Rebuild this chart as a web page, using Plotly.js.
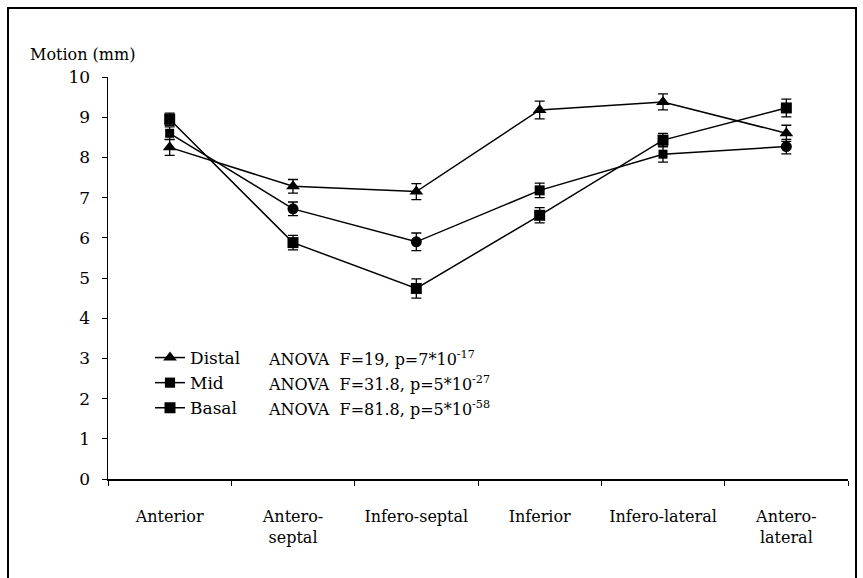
<!DOCTYPE html>
<html>
<head>
<meta charset="utf-8">
<script src="https://cdn.plot.ly/plotly-3.0.1.min.js"></script>
<style>html,body{margin:0;padding:0;background:#fff;}#chart{width:863px;height:578px;}</style>
</head>
<body>
<div id="chart"></div>
<script>
const categories = ['Anterior', 'Antero-<br>septal', 'Infero-septal', 'Inferior', 'Infero-lateral', 'Antero-<br>lateral'];
const distal = [8.25, 7.28, 7.15, 9.18, 9.38, 8.6];
const distalErr = [0.2, 0.17, 0.2, 0.22, 0.2, 0.2];
const mid = [8.6, 6.72, 5.9, 7.18, 8.08, 8.27];
const midErr = [0.16, 0.17, 0.22, 0.18, 0.2, 0.18];
const basal = [8.95, 5.88, 4.74, 6.56, 8.43, 9.23];
const basalErr = [0.15, 0.18, 0.24, 0.19, 0.17, 0.22];
const seriesNames = ['Distal', 'Mid', 'Basal'];
const anovaTexts = ['ANOVA  F=19, p=7*10<sup>-17</sup>', 'ANOVA  F=31.8, p=5*10<sup>-27</sup>', 'ANOVA  F=81.8, p=5*10<sup>-58</sup>'];
const yTicks = [0,1,2,3,4,5,6,7,8,9,10];

const FONT = 'DejaVu Serif';
const errStyle = {type:'data', visible:true, color:'#000', thickness:1.3, width:5};

const traces = [
  {name: seriesNames[0], x: categories, y: distal, type:'scatter', mode:'lines+markers',
   line:{color:'#000', width:1.5}, marker:{symbol:'triangle-up', size:12, color:'#000', opacity:1, line:{width:0}},
   error_y: Object.assign({array: distalErr}, errStyle)},
  {name: seriesNames[1], x: categories, y: mid, type:'scatter', mode:'lines+markers',
   line:{color:'#000', width:1.5},
   marker:{symbol:['square','circle','circle','square','square','circle'], size:[9,11,11,10,9,11], color:'#000', opacity:1, line:{width:0}},
   error_y: Object.assign({array: midErr}, errStyle)},
  {name: seriesNames[2], x: categories, y: basal, type:'scatter', mode:'lines+markers',
   line:{color:'#000', width:1.5}, marker:{symbol:'square', size:11, color:'#000', opacity:1, line:{width:0}},
   error_y: Object.assign({array: basalErr}, errStyle)}
];

const L = 108, R = 848, T = 77, B = 479;
const px2x = p => (p - L) / (R - L);
const px2y = p => (B - p) / (B - T);

const annotations = anovaTexts.map((t, i) => ({
  xref:'paper', yref:'paper', x: px2x(266), y: px2y(358 + 25*i),
  xanchor:'left', yanchor:'middle', showarrow:false, text:t,
  font:{family:FONT, size:16, color:'#000'}
}));
annotations.push({xref:'paper', yref:'paper', x: px2x(28), y: px2y(55),
  xanchor:'left', yanchor:'middle', showarrow:false, text:'Motion (mm)',
  font:{family:FONT, size:16, color:'#000'}});

const layout = {
  width:863, height:578,
  margin:{l:L, r:863-R, t:T, b:578-B},
  paper_bgcolor:'#fff', plot_bgcolor:'#fff',
  font:{family:FONT, size:16, color:'#000'},
  showlegend:true,
  legend:{x: px2x(150), y: px2y(340), xanchor:'left', yanchor:'top',
    bgcolor:'rgba(0,0,0,0)', font:{family:FONT, size:17, color:'#000'},
    tracegroupgap:0, itemwidth:30},
  xaxis:{type:'category', range:[-0.5, 5.5], showline:true, linecolor:'#000', linewidth:1.5,
    ticks:'outside', tickson:'boundaries', ticklen:5, tickcolor:'#000', showgrid:false,
    zeroline:false, tickangle:0, ticklabelstandoff:22, tickfont:{family:FONT, size:16, color:'#000'}},
  yaxis:{range:[0,10], tickvals:yTicks, showline:true, linecolor:'#000', linewidth:1.5,
    ticks:'outside', ticklen:5, tickcolor:'#000', showgrid:false, zeroline:false,
    ticklabelstandoff:8, tickfont:{family:FONT, size:17, color:'#000'}},
  annotations: annotations,
  shapes:[{type:'rect', xref:'paper', yref:'paper', x0:px2x(8), x1:px2x(856), y0:px2y(600), y1:px2y(8),
    line:{color:'#000', width:2}, fillcolor:'rgba(0,0,0,0)'}]
};

Plotly.newPlot('chart', traces, layout, {staticPlot:true, displayModeBar:false});
</script>
</body>
</html>
